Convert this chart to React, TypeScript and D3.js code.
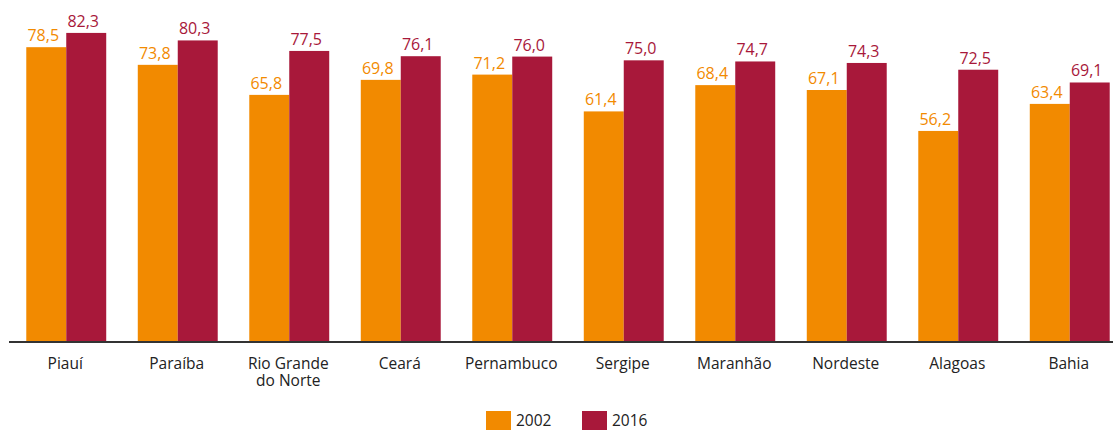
import React from "react";
import * as d3 from "d3";

const categories = ["Piauí", "Paraíba", "Rio Grande do Norte", "Ceará", "Pernambuco", "Sergipe", "Maranhão", "Nordeste", "Alagoas", "Bahia"];
const labelLines = [["Piauí"], ["Paraíba"], ["Rio Grande", "do Norte"], ["Ceará"], ["Pernambuco"], ["Sergipe"], ["Maranhão"], ["Nordeste"], ["Alagoas"], ["Bahia"]];
const series2002 = [78.5, 73.8, 65.8, 69.8, 71.2, 61.4, 68.4, 67.1, 56.2, 63.4];
const series2016 = [82.3, 80.3, 77.5, 76.1, 76.0, 75.0, 74.7, 74.3, 72.5, 69.1];
const seriesNames = ["2002", "2016"];
const colors = ["#F28A00", "#A8183A"];

const W = 1113;
const H = 430;
const FONT = "'Open Sans', sans-serif";

export default function App() {
  const x = d3.scaleBand<string>().domain(categories).range([10.5, 1125.5]).paddingInner(0.283).paddingOuter(0.1415);
  const x1 = d3.scaleBand<string>().domain(seriesNames).range([0, x.bandwidth()]);
  const y = d3.scaleLinear().domain([0, 90]).range([342, 4]);
  const fmt = (v: number) => v.toFixed(1).replace(".", ",");
  const data = [series2002, series2016];

  return (
    <svg width={W} height={H} style={{ position: "absolute", left: 0, top: 0, fontFamily: FONT }}>
      {categories.map((c, i) => (
        <g key={c} transform={`translate(${x(c)},0)`}>
          {seriesNames.map((s, j) => {
            const v = data[j][i];
            const bx = x1(s)!;
            return (
              <g key={s}>
                <rect x={bx} y={y(v)} width={x1.bandwidth()} height={y(0) - y(v)} fill={colors[j]} />
                <text x={bx + x1.bandwidth() / 2 - 3} y={y(v) - 6} textAnchor="middle" fontSize={16} fill={colors[j]}>
                  {fmt(v)}
                </text>
              </g>
            );
          })}
        </g>
      ))}
      <line x1={9} x2={W} y1={342} y2={342} stroke="#333" strokeWidth={2} />
      {categories.map((c, i) =>
        labelLines[i].map((l, k) => (
          <text
            key={c + k}
            x={x(c)! + x.bandwidth() / 2 - 1}
            y={369 + k * 17}
            textAnchor="middle"
            fontSize={15.5}
            fill="#222"
          >
            {l}
          </text>
        ))
      )}
      {seriesNames.map((s, j) => (
        <g key={s} transform={`translate(${486 + j * 96},411)`}>
          <rect x={0} y={0} width={25} height={25} fill={colors[j]} />
          <text x={30} y={15} fontSize={15.5} fill="#222">{s}</text>
        </g>
      ))}
    </svg>
  );
}
